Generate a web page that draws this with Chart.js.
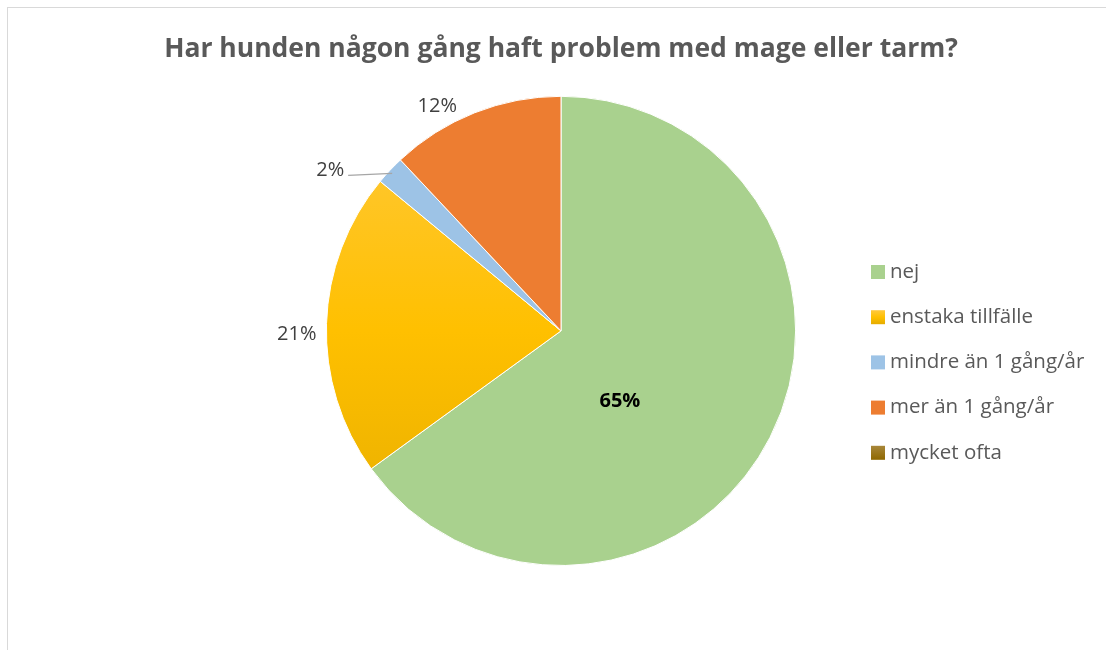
<!DOCTYPE html>
<html>
<head>
<meta charset="utf-8">
<script src="https://cdn.jsdelivr.net/npm/chart.js@4"></script>
<style>
    html, body { margin: 0; padding: 0; background: #fff; overflow: hidden; }
    #wrap { position: relative; width: 1106px; height: 650px; }
    #frame { position: absolute; left: 7px; top: 7px; width: 1110px; height: 660px;
             border: 1px solid #d9d9d9; pointer-events: none; }
</style>
</head>
<body>
<div id="wrap">
    <canvas id="pieChart" width="1106" height="650"></canvas>
    <div id="frame"></div>
</div>
<script>
const title = "Har hunden någon gång haft problem med mage eller tarm?";
const categories = ["nej", "enstaka tillfälle", "mindre än 1 gång/år", "mer än 1 gång/år", "mycket ofta"];
const percentValues = [65, 21, 2, 12, 0];

// small angle tweaks (radians) so labels sit where excel put them
const labelAngleNudge = [0.4, -0.045, 0, -0.11, 0];

const FONT = "'Open Sans', sans-serif";
const TEXT_COLOR = "#595959";

const ctx = document.getElementById("pieChart").getContext("2d");

// excel style fills, two of them with a soft vertical gradient
function sliceFill(i, top, bottom) {
    const flat = ["#a9d18e", null, "#9dc3e6", "#ed7d31", null];
    if (flat[i]) return flat[i];
    const g = ctx.createLinearGradient(0, top, 0, bottom);
    if (i === 1) {
        g.addColorStop(0, "#ffc93e");
        g.addColorStop(0.5, "#ffc000");
        g.addColorStop(1, "#e5ac00");
    } else {
        g.addColorStop(0, "#a8873a");
        g.addColorStop(1, "#8f6800");
    }
    return g;
}

const labelPlugin = {
    id: "pctLabels",
    afterDatasetsDraw(chart) {
        const c = chart.ctx;
        const meta = chart.getDatasetMeta(0);
        c.save();
        c.textBaseline = "middle";
        meta.data.forEach((arc, i) => {
            const v = percentValues[i];
            if (!v) return;
            const {x, y, startAngle, endAngle, outerRadius} = arc.getProps(["x", "y", "startAngle", "endAngle", "outerRadius"], true);
            const mid = (startAngle + endAngle) / 2;
            const a = mid + labelAngleNudge[i];
            const txt = v + "%";
            if (v > 50) {
                // big slice: label inside, bold
                c.font = "bold 20px " + FONT;
                c.fillStyle = "#000";
                c.textAlign = "center";
                c.fillText(txt, x + Math.cos(a) * outerRadius * 0.39, y + Math.sin(a) * outerRadius * 0.39);
                return;
            }
            c.font = "20px " + FONT;
            c.fillStyle = "#404040";
            if (v < 5) {
                // small slice: leader line to the left
                const ex = x + Math.cos(mid) * (outerRadius - 3);
                const ey = y + Math.sin(mid) * (outerRadius - 3);
                c.strokeStyle = "#a6a6a6";
                c.lineWidth = 1.2;
                c.beginPath();
                c.moveTo(ex, ey + 1);
                c.lineTo(ex - 44, ey + 3);
                c.stroke();
                c.textAlign = "right";
                c.fillText(txt, ex - 48, ey - 2);
                return;
            }
            // outside end: box edge sits a little off the rim
            const w = c.measureText(txt).width, h = 20, gap = 10;
            const cx = x + Math.cos(a) * (outerRadius + gap + w / 2);
            const cy = y + Math.sin(a) * (outerRadius + gap + h / 2);
            c.textAlign = "center";
            c.fillText(txt, cx, cy);
        });
        c.restore();
    }
};

const legendPlugin = {
    id: "sideLegend",
    afterDraw(chart) {
        const c = chart.ctx;
        const left = 871;
        const firstY = 272;
        const step = 45.2;
        c.save();
        c.font = "20.5px " + FONT;
        c.textBaseline = "middle";
        c.textAlign = "left";
        categories.forEach((name, i) => {
            const cy = firstY + step * i;
            c.fillStyle = sliceFill(i, cy - 7, cy + 7);
            c.fillRect(left, cy - 7, 14, 14);
            c.fillStyle = TEXT_COLOR;
            c.fillText(name, left + 19, cy);
        });
        c.restore();
    }
};

const chart = new Chart(ctx, {
    type: "pie",
    data: {
        labels: categories,
        datasets: [{
            data: percentValues,
            backgroundColor: (context) => {
                const area = context.chart.chartArea;
                if (!area) return "#ccc";
                return sliceFill(context.dataIndex, area.top, area.bottom);
            },
            borderColor: "#ffffff",
            borderWidth: 1,
        }]
    },
    options: {
        responsive: false,
        animation: false,
        layout: {
            padding: { left: 16, right: 0, top: 0, bottom: 84 }
        },
        plugins: {
            legend: { display: false },
            tooltip: { enabled: false },
            title: {
                display: true,
                text: title,
                color: TEXT_COLOR,
                font: { family: FONT, size: 26.5, weight: "bold" },
                padding: { top: 34, bottom: 30 }
            }
        }
    },
    plugins: [labelPlugin, legendPlugin]
});
</script>
</body>
</html>
